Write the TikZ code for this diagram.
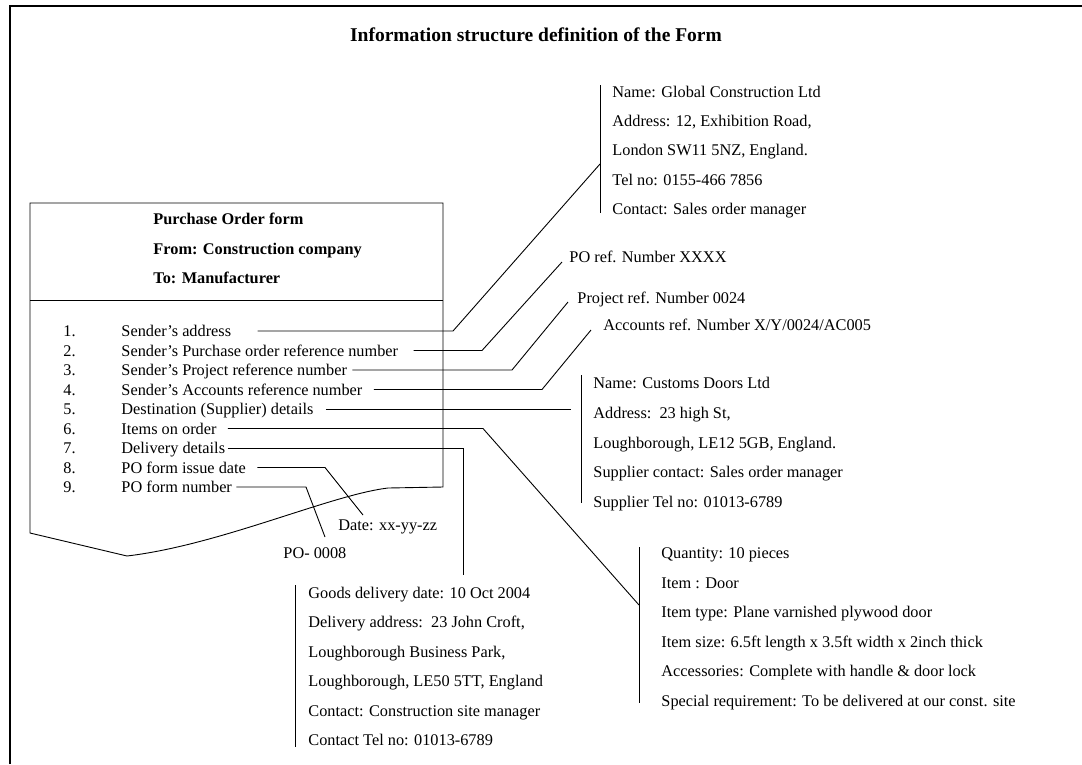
\documentclass[tikz,border=0pt]{standalone}
\usepackage{fontspec}
\setmainfont{Liberation Serif}
\usetikzlibrary{calc}
\newcommand\bodyfont{\fontsize{16.3}{19}\selectfont}
\newcommand\titlefont{\fontsize{19.5}{23}\selectfont\bfseries}
\begin{document}
\begin{tikzpicture}[x=1pt,y=-1pt,line width=0.9pt,
  txt/.style={anchor=west,inner sep=0pt,font=\bodyfont,text height=13pt,text depth=2pt},
  hdr/.style={txt,font=\bodyfont\bfseries},
  frameline/.style={line width=2pt},
  lead/.style={line width=0.9pt,line join=miter},
  bar/.style={line width=0.9pt}]
\useasboundingbox (0,0) rectangle (1082,764);
% outer frame (cut off at right and bottom)
\draw[frameline] (10,764) -- (10,6) -- (1082,6);
% title
\node[inner sep=0pt,font=\titlefont] (title) at (536,35) {Information structure definition of the Form};
% the form outline
\draw (30,533) -- (30,203) -- (443,203) -- (443,487) -- (388,488)
  .. controls (330,495) and (220,545) .. (127,556) -- cycle;
\draw (30,300) -- (443,300);
\node[hdr] (h1) at (153,219) {Purchase Order form};
\node[hdr] (h2) at (153,248.5) {From: Construction company};
\node[hdr] (h3) at (153,278) {To: Manufacturer};
% items
\node[txt] (n1) at (63,331) {1.};
\node[txt] (n2) at (63,350.5) {2.};
\node[txt] (n3) at (63,370) {3.};
\node[txt] (n4) at (63,389.5) {4.};
\node[txt] (n5) at (63,409) {5.};
\node[txt] (n6) at (63,428.5) {6.};
\node[txt] (n7) at (63,448) {7.};
\node[txt] (n8) at (63,467.5) {8.};
\node[txt] (n9) at (63,487) {9.};
\node[txt] (t1) at (121,331) {Sender’s address};
\node[txt] (t2) at (121,350.5) {Sender’s Purchase order reference number};
\node[txt] (t3) at (121,370) {Sender’s Project reference number};
\node[txt] (t4) at (121,389.5) {Sender’s Accounts reference number};
\node[txt] (t5) at (121,409) {Destination (Supplier) details};
\node[txt] (t6) at (121,428.5) {Items on order};
\node[txt] (t7) at (121,448) {Delivery details};
\node[txt] (t8) at (121,467.5) {PO form issue date};
\node[txt] (t9) at (121,487) {PO form number};
% sender block
\node[txt] (s1) at (612,92) {Name: Global Construction Ltd};
\node[txt] (s2) at (612,121.2) {Address: 12, Exhibition Road,};
\node[txt] (s3) at (612,150.4) {London SW11 5NZ, England.};
\node[txt] (s4) at (612,179.6) {Tel no: 0155-466 7856};
\node[txt] (s5) at (612,208.8) {Contact: Sales order manager};
\draw[bar] (600,85) coordinate (sbt) -- (600,213) coordinate (sbb);
% reference labels
\node[txt] (po) at (569,257) {PO ref. Number XXXX};
\node[txt] (pr) at (577,298) {Project ref. Number 0024};
\node[txt] (ac) at (603,325) {Accounts ref. Number X/Y/0024/AC005};
% supplier block
\node[txt] (u1) at (593,383) {Name: Customs Doors Ltd};
\node[txt] (u2) at (593,412.8) {Address:\ \ 23 high St,};
\node[txt] (u3) at (593,442.6) {Loughborough, LE12 5GB, England.};
\node[txt] (u4) at (593,472.4) {Supplier contact: Sales order manager};
\node[txt] (u5) at (593,502.2) {Supplier Tel no: 01013-6789};
\draw[bar] (581,375) coordinate (ubt) -- (581,503) coordinate (ubb);
% items block
\node[txt] (q1) at (661,553) {Quantity: 10 pieces};
\node[txt] (q2) at (661,582.6) {Item : Door};
\node[txt] (q3) at (661,612.2) {Item type: Plane varnished plywood door};
\node[txt] (q4) at (661,641.8) {Item size: 6.5ft length x 3.5ft width x 2inch thick};
\node[txt] (q5) at (661,671.4) {Accessories: Complete with handle \& door lock};
\node[txt] (q6) at (661,701) {Special requirement: To be delivered at our const. site};
\draw[bar] (639,547) coordinate (qbt) -- (639,703) coordinate (qbb);
% delivery block
\node[txt] (d1) at (308,593) {Goods delivery date: 10 Oct 2004};
\node[txt] (d2) at (308,622.4) {Delivery address:\ \ 23 John Croft,};
\node[txt] (d3) at (308,651.8) {Loughborough Business Park,};
\node[txt] (d4) at (308,681.2) {Loughborough, LE50 5TT, England};
\node[txt] (d5) at (308,710.6) {Contact: Construction site manager};
\node[txt] (d6) at (308,740) {Contact Tel no: 01013-6789};
\draw[bar] (295,585) coordinate (dbt) -- (295,747) coordinate (dbb);
% date / number labels
\node[txt] (dt) at (338,525) {Date: xx-yy-zz};
\node[txt] (pn) at (283,553) {PO- 0008};
% connector end points
\coordinate (e1) at (600,164);
\coordinate (e2) at (562,262);
\coordinate (e3) at (568,302);
\coordinate (e4) at (591,330);
\coordinate (e5) at (571,409);
\coordinate (e6) at (639,605);
\coordinate (e7) at (463,575);
\coordinate (e8) at (363,515);
\coordinate (e9) at (325,537);
% connectors
\draw[lead] ([xshift=26pt]t1.east) -- (453,331) -- (e1);
\draw[lead] ([xshift=15pt]t2.east) -- (482,350.5) -- (e2);
\draw[lead] ([xshift=5pt]t3.east) -- (512,370) -- (e3);
\draw[lead] ([xshift=11pt]t4.east) -- (542,389.5) -- (e4);
\draw[lead] ([xshift=12pt]t5.east) -- (e5);
\draw[lead] ([xshift=11pt]t6.east) -- (483,428.5) -- (e6);
\draw[lead] ([xshift=2pt]t7.east) -- (463,448) -- (e7);
\draw[lead] ([xshift=11pt]t8.east) -- (325,467.5) -- (e8);
\draw[lead] ([xshift=4pt]t9.east) -- (306,487) -- (e9);
\end{tikzpicture}
\end{document}
